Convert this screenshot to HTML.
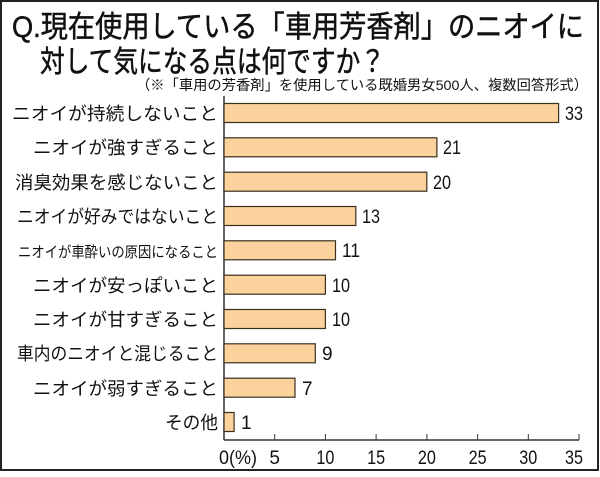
<!DOCTYPE html>
<html><head><meta charset="utf-8"><style>
body{margin:0;background:#fff}
svg text{font-family:"Liberation Sans","Noto Sans CJK JP",sans-serif;fill:#111}
</style></head><body>
<svg width="600" height="472" viewBox="0 0 600 472" xmlns="http://www.w3.org/2000/svg">
<rect x="1" y="1" width="597" height="469" fill="#fff" stroke="#222" stroke-width="2"/>
<text x="12" y="37" font-size="30" stroke="#111" stroke-width="0.5" textLength="572" lengthAdjust="spacingAndGlyphs">Q.現在使用している「車用芳香剤」のニオイに</text>
<text x="40" y="72" font-size="30" stroke="#111" stroke-width="0.5" textLength="345" lengthAdjust="spacingAndGlyphs">対して気になる点は何ですか？</text>
<text x="136" y="90" font-size="14" textLength="452" lengthAdjust="spacingAndGlyphs">（※「車用の芳香剤」を使用している既婚男女500人、複数回答形式）</text>
<line x1="224" y1="96" x2="224" y2="440" stroke="#333" stroke-width="1.5"/>
<line x1="224" y1="440" x2="579" y2="440" stroke="#333" stroke-width="1.5"/>
<g stroke="#333" stroke-width="1">
<line x1="274.7" y1="434" x2="274.7" y2="440"/><line x1="325.4" y1="434" x2="325.4" y2="440"/>
<line x1="376.1" y1="434" x2="376.1" y2="440"/><line x1="426.9" y1="434" x2="426.9" y2="440"/>
<line x1="477.6" y1="434" x2="477.6" y2="440"/><line x1="528.3" y1="434" x2="528.3" y2="440"/>
<line x1="579" y1="434" x2="579" y2="440"/>
</g>
<g font-size="19">
<text x="219" y="464" textLength="38" lengthAdjust="spacingAndGlyphs">0(%)</text>
<text x="274.7" y="464" text-anchor="middle">5</text>
<text x="325.4" y="464" text-anchor="middle" textLength="18" lengthAdjust="spacingAndGlyphs">10</text>
<text x="376.1" y="464" text-anchor="middle" textLength="18" lengthAdjust="spacingAndGlyphs">15</text>
<text x="426.9" y="464" text-anchor="middle" textLength="18" lengthAdjust="spacingAndGlyphs">20</text>
<text x="477.6" y="464" text-anchor="middle" textLength="18" lengthAdjust="spacingAndGlyphs">25</text>
<text x="528.3" y="464" text-anchor="middle" textLength="18" lengthAdjust="spacingAndGlyphs">30</text>
<text x="574" y="464" text-anchor="middle" textLength="18" lengthAdjust="spacingAndGlyphs">35</text>
</g>
<g fill="#fbd29c" stroke="#3a3020" stroke-width="1.2">
<rect x="224" y="103.5" width="334.6" height="19"/>
<rect x="224" y="137.8" width="212.9" height="19"/>
<rect x="224" y="172.2" width="202.8" height="19"/>
<rect x="224" y="206.5" width="131.8" height="19"/>
<rect x="224" y="240.8" width="111.5" height="19"/>
<rect x="224" y="275.2" width="101.4" height="19"/>
<rect x="224" y="309.5" width="101.4" height="19"/>
<rect x="224" y="343.8" width="91.3" height="19"/>
<rect x="224" y="378.2" width="71" height="19"/>
<rect x="224" y="412.5" width="10.1" height="19"/>
</g>
<g font-size="19">
<text x="565" y="120" textLength="18" lengthAdjust="spacingAndGlyphs">33</text>
<text x="443" y="154" textLength="18" lengthAdjust="spacingAndGlyphs">21</text>
<text x="433" y="189" textLength="18" lengthAdjust="spacingAndGlyphs">20</text>
<text x="362" y="223" textLength="18" lengthAdjust="spacingAndGlyphs">13</text>
<text x="342" y="257" textLength="18" lengthAdjust="spacingAndGlyphs">11</text>
<text x="332" y="292" textLength="18" lengthAdjust="spacingAndGlyphs">10</text>
<text x="332" y="326" textLength="18" lengthAdjust="spacingAndGlyphs">10</text>
<text x="322" y="360">9</text><text x="302" y="395">7</text>
<text x="241" y="429">1</text>
</g>
<g font-size="18">
<text x="12" y="120" textLength="206" lengthAdjust="spacingAndGlyphs">ニオイが持続しないこと</text>
<text x="33" y="154" textLength="185" lengthAdjust="spacingAndGlyphs">ニオイが強すぎること</text>
<text x="15" y="189" textLength="203" lengthAdjust="spacingAndGlyphs">消臭効果を感じないこと</text>
<text x="17" y="223" textLength="201" lengthAdjust="spacingAndGlyphs">ニオイが好みではないこと</text>
<text x="18" y="257" font-size="15" textLength="200" lengthAdjust="spacingAndGlyphs">ニオイが車酔いの原因になること</text>
<text x="33" y="292" textLength="185" lengthAdjust="spacingAndGlyphs">ニオイが安っぽいこと</text>
<text x="33" y="326" textLength="185" lengthAdjust="spacingAndGlyphs">ニオイが甘すぎること</text>
<text x="17" y="360" textLength="201" lengthAdjust="spacingAndGlyphs">車内のニオイと混じること</text>
<text x="33" y="395" textLength="185" lengthAdjust="spacingAndGlyphs">ニオイが弱すぎること</text>
<text x="165" y="429" textLength="53" lengthAdjust="spacingAndGlyphs">その他</text>
</g>
</svg>
</body></html>
